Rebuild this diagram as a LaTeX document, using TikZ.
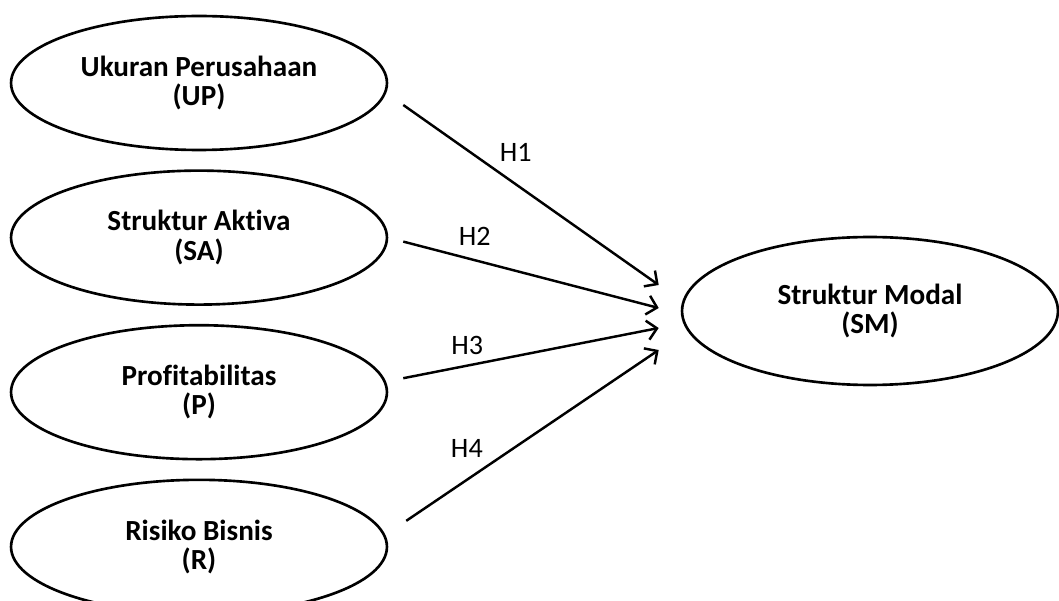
\documentclass[tikz,border=0pt]{standalone}
\usepackage{fontspec}
\setmainfont{Carlito}[Ligatures=NoCommon]
\usetikzlibrary{shapes.geometric, arrows.meta, positioning, calc}

\begin{document}
\begin{tikzpicture}[x=0.02cm, y=-0.02cm, >={Straight Barb[length=5.5pt,width=11pt]}, line width=1.4pt, node distance=0.36cm]
        \tikzset{varellipse/.style={ellipse, draw=black, line width=1.5pt, minimum width=7.52cm, minimum height=2.68cm, align=center, font=\bfseries\fontsize{16.6}{16.8}\selectfont}}
        \tikzset{hlabel/.style={anchor=center, font=\fontsize{16}{17}\selectfont}}
        \useasboundingbox (0,0) rectangle (1059,601);
        \node[varellipse]    (up) at (199,83)   {Ukuran Perusahaan\\(UP)};
        \node[varellipse]    (sa) [below=of up] {Struktur Aktiva\\(SA)};
        \node[varellipse]    (pr) [below=of sa] {Profitabilitas\\(P)};
        \node[varellipse]    (rb) [below=of pr] {Risiko Bisnis\\(R)};
        \node[varellipse, minimum height=2.96cm] (sm) at (870,311) {Struktur Modal\\(SM)};
        % start and end points of the hypotheses
        \coordinate (s1) at ($(up.east)+(15,22)$);
        \coordinate (s2) at ($(sa.east)+(15,4)$);
        \coordinate (s3) at ($(pr.east)+(15,-14)$);
        \coordinate (s4) at ($(rb.east)+(18,-26)$);
        \coordinate (e1) at ($(sm.west)+(-22,-26)$);
        \coordinate (e2) at ($(sm.west)+(-22,-3)$);
        \coordinate (e3) at ($(sm.west)+(-22,17)$);
        \coordinate (e4) at ($(sm.west)+(-22,39)$);
        \path[->]
        (s1) edge node[hlabel, pos=.44, yshift=18pt]{H1} (e1)
        (s2) edge node[hlabel, pos=.28, yshift=13.6pt]{H2} (e2)
        (s3) edge node[hlabel, pos=.25, yshift=11.3pt]{H3} (e3)
        (s4) edge node[hlabel, pos=.24, yshift=17.6pt]{H4} (e4);
      \end{tikzpicture}
\end{document}
